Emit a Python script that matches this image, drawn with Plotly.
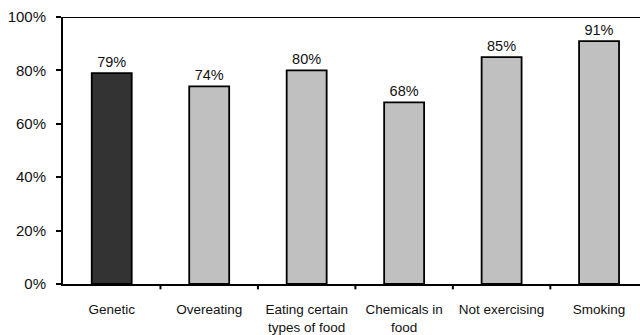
import plotly.graph_objects as go

# Survey results: share of respondents citing each cause
categories = ["Genetic", "Overeating", "Eating certain<br>types of food",
              "Chemicals in<br>food", "Not exercising", "Smoking"]
values = [79, 74, 80, 68, 85, 91]
bar_colors = ["#333333", "#c0c0c0", "#c0c0c0", "#c0c0c0", "#c0c0c0", "#c0c0c0"]
y_ticks = [0, 20, 40, 60, 80, 100]
y_tick_labels = ["0%", "20%", "40%", "60%", "80%", "100%"]

font_family = "Liberation Sans, Arial, sans-serif"

fig = go.Figure(
    go.Bar(
        x=list(range(len(categories))),
        y=values,
        width=0.41,
        marker=dict(color=bar_colors, line=dict(color="#000000", width=1.8)),
        text=[f"{v}%" for v in values],
        textposition="outside",
        textfont=dict(family=font_family, size=14.5, color="#111111"),
        cliponaxis=False,
    )
)

fig.update_layout(
    width=640,
    height=335,
    margin=dict(l=63, r=0, t=17, b=49),
    paper_bgcolor="white",
    plot_bgcolor="white",
    showlegend=False,
    font=dict(family=font_family, color="#111111"),
)

fig.update_xaxes(
    range=[-0.5, 5.42],
    tickmode="array",
    tickvals=list(range(len(categories))),
    ticktext=categories,
    tickfont=dict(size=13.5),
    showgrid=False,
    zeroline=False,
    showline=True,
    linecolor="#000000",
    linewidth=2,
    ticks="",
    ticklabelstandoff=12,
)

# Boundary tick marks between categories
for b in [0.5, 1.5, 2.5, 3.5, 4.5]:
    fig.add_shape(type="line", xref="x", yref="paper", x0=b, x1=b, y0=0, y1=-0.02,
                  line=dict(color="#000000", width=2))

fig.update_yaxes(
    range=[0, 100],
    tickmode="array",
    tickvals=y_ticks,
    ticktext=y_tick_labels,
    tickfont=dict(size=15),
    showgrid=False,
    zeroline=False,
    showline=True,
    linecolor="#000000",
    linewidth=2,
    ticks="outside",
    ticklen=5,
    tickwidth=2,
    tickcolor="#000000",
    ticklabelstandoff=7,
)

# Upper border line at 100%
fig.add_shape(type="line", xref="paper", yref="y", x0=0, x1=1, y0=100, y1=100,
              line=dict(color="#000000", width=2))

fig.write_html("out.html")
